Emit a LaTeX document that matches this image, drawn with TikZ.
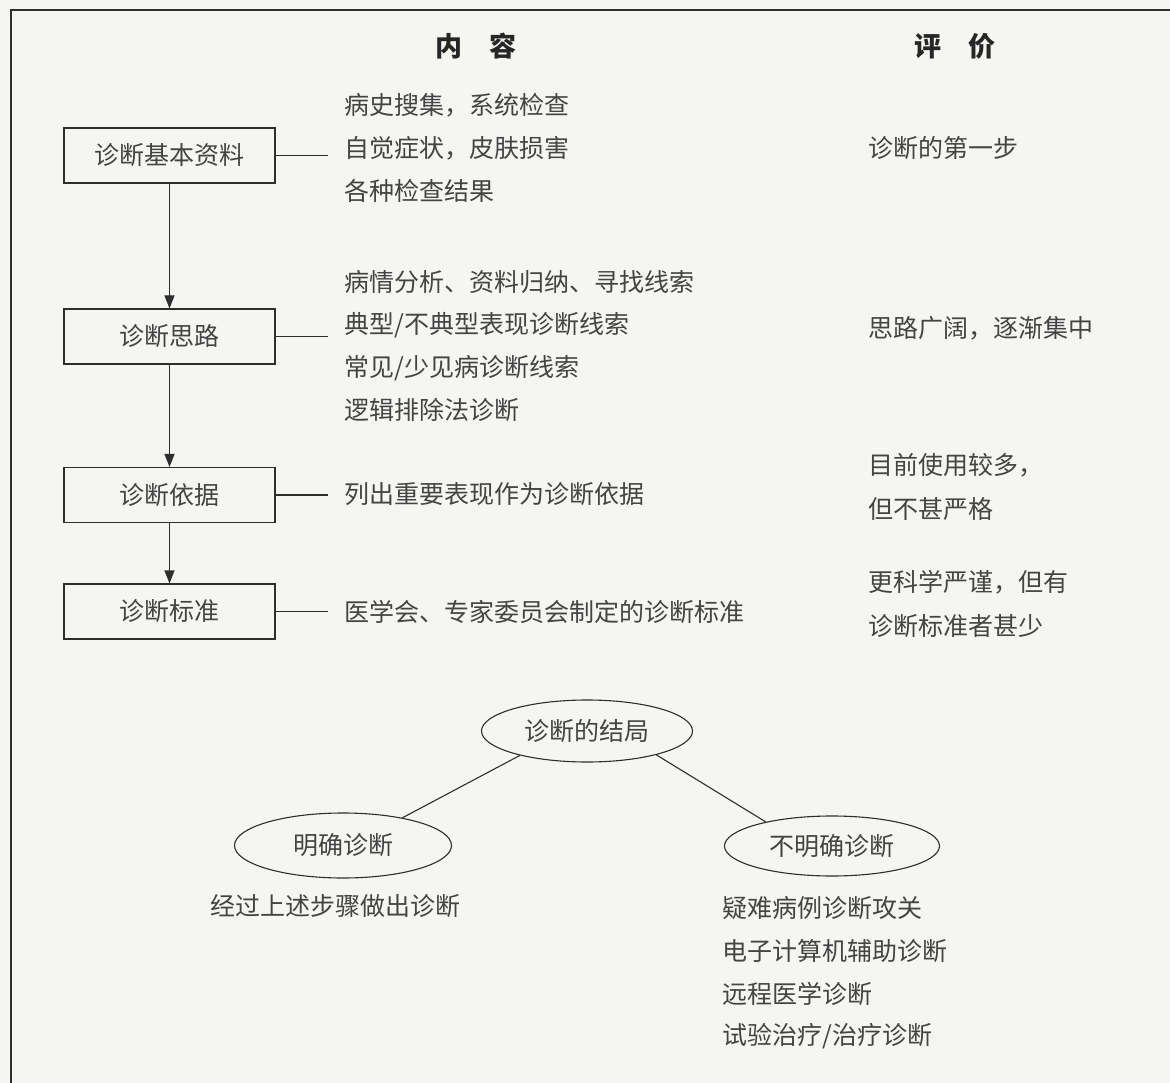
\documentclass[tikz,border=0pt]{standalone}
\usepackage{fontspec}
\setmainfont{Noto Sans CJK SC}
\usetikzlibrary{shapes.geometric,arrows.meta}
\definecolor{paper}{HTML}{F5F5F2}
\definecolor{ink}{HTML}{444444}
\definecolor{linec}{HTML}{2E2E2E}
\begin{document}
\begin{tikzpicture}[x=1pt,y=-1pt,
  body/.style={font=\fontsize{25}{30}\selectfont, text=ink},
  stepbox/.style={body, draw=linec, line width=1.1pt, minimum width=211pt, minimum height=55pt, inner sep=0pt},
  txt/.style={body, anchor=west, inner sep=0pt},
  head/.style={font=\fontsize{27}{32}\selectfont\bfseries, text=black!85, inner sep=0pt},
  oval/.style={body, ellipse, draw=linec, line width=1.1pt, inner sep=0pt, minimum width=214pt, minimum height=62pt},
  conn/.style={draw=linec, line width=1.1pt},
  arr/.style={conn, -{Triangle[length=13pt,width=10pt]}}
]
\fill[paper] (0,0) rectangle (1170,1083);
\useasboundingbox (0,0) rectangle (1170,1083);
% frame
\draw[linec, line width=1.1pt] (1170,10) -- (11,10) -- (11,1083);

% headers
\node[head] (h1) at (476,46) {内\hspace{1em}容};
\node[head] (h2) at (955,46) {评\hspace{1em}价};

% step boxes
\node[stepbox] (b1) at (169.5,155.5) {诊断基本资料};
\node[stepbox] (b2) at (169.5,336.5) {诊断思路};
\node[stepbox] (b3) at (169.5,495) {诊断依据};
\node[stepbox] (b4) at (169.5,611.5) {诊断标准};

\draw[arr] (b1) -- (b2);
\draw[arr] (b2) -- (b3);
\draw[arr] (b3) -- (b4);

\coordinate (c1) at (328,155.5);
\coordinate (c2) at (328,336.5);
\coordinate (c3) at (328,495);
\coordinate (c4) at (328,611.5);
\draw[conn] (b1.east) -- (c1);
\draw[conn] (b2.east) -- (c2);
\draw[conn] (b3.east) -- (c3);
\draw[conn] (b4.east) -- (c4);

% content column
\node[txt] (t1a) at (344,105) {病史搜集，系统检查};
\node[txt] (t1b) at (344,148) {自觉症状，皮肤损害};
\node[txt] (t1c) at (344,191) {各种检查结果};
\node[txt] (t2a) at (344,282) {病情分析、资料归纳、寻找线索};
\node[txt] (t2b) at (344,325) {典型/不典型表现诊断线索};
\node[txt] (t2c) at (344,368) {常见/少见病诊断线索};
\node[txt] (t2d) at (344,410) {逻辑排除法诊断};
\node[txt] (t3a) at (344,494) {列出重要表现作为诊断依据};
\node[txt] (t4a) at (344,612) {医学会、专家委员会制定的诊断标准};

% evaluation column
\node[txt] (e1) at (868,148) {诊断的第一步};
\node[txt] (e2) at (868,328) {思路广阔，逐渐集中};
\node[txt] (e3a) at (868,465) {目前使用较多，};
\node[txt] (e3b) at (868,509) {但不甚严格};
\node[txt] (e4a) at (868,582) {更科学严谨，但有};
\node[txt] (e4b) at (868,626) {诊断标准者甚少};

% outcome
\node[oval, minimum width=211pt] (res) at (587,731) {诊断的结局};
\node[oval, minimum width=217pt, minimum height=65pt] (yes) at (343,845.5) {明确诊断};
\node[oval, minimum width=215pt, minimum height=60pt] (no) at (832,846) {不明确诊断};
\draw[conn] (res.200) -- (yes.25);
\draw[conn] (res.-19) -- (no.160);

\node[txt] (y1) at (210,906) {经过上述步骤做出诊断};
\node[txt] (n1) at (722,908) {疑难病例诊断攻关};
\node[txt] (n2) at (722,951) {电子计算机辅助诊断};
\node[txt] (n3) at (722,994) {远程医学诊断};
\node[txt] (n4) at (722,1036) {试验治疗/治疗诊断};
\end{tikzpicture}
\end{document}
